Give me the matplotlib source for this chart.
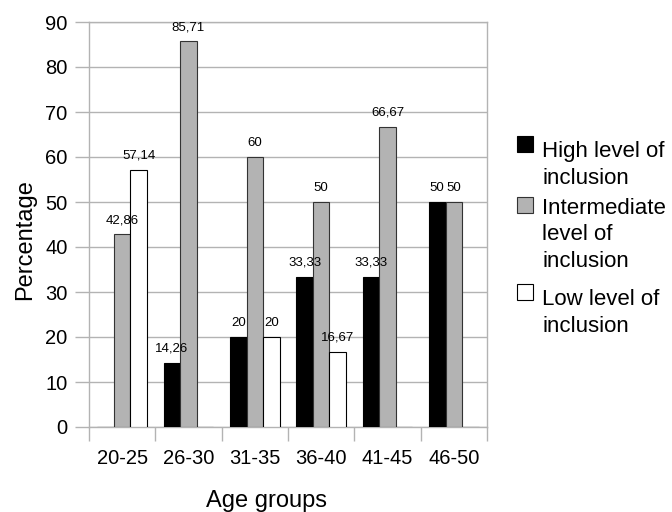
import numpy as np
import matplotlib.pyplot as plt
from matplotlib.patches import Rectangle

plt.rcParams['font.family'] = ['Liberation Sans', 'DejaVu Sans']

# percentages per age group
age_groups = ['20-25', '26-30', '31-35', '36-40', '41-45', '46-50']
high = [0, 14.26, 20, 33.33, 33.33, 50]
intermediate = [42.86, 85.71, 60, 50, 66.67, 50]
low = [57.14, 0, 20, 16.67, 0, 0]

series_names = ['High level of\ninclusion',
                'Intermediate\nlevel of\ninclusion',
                'Low level of\ninclusion']
series_values = [high, intermediate, low]
fills = ['#000000', '#b3b3b3', '#ffffff']
edges = ['#000000', '#333333', '#000000']

W, H = 672, 512
fig = plt.figure(figsize=(W / 100, H / 100), dpi=100)
ax = fig.add_axes([89 / W, 1 - 427 / H, (487 - 89) / W, (427 - 22) / H])

grid_col = '#b3b3b3'
x = np.arange(len(age_groups))
width = 0.25

for i, vals in enumerate(series_values):
    pos = x + (i - 1) * width
    ax.bar(pos, vals, width, color=fills[i], edgecolor=edges[i],
           linewidth=0.8, zorder=3)
    for p, v in zip(pos, vals):
        if v == 0:
            continue
        txt = ('%g' % v).replace('.', ',')
        ax.annotate(txt, (p, v), xytext=(0, 8), textcoords='offset points',
                    ha='center', va='baseline', fontsize=9.5, zorder=4)

ax.set_xlim(-0.5, len(age_groups) - 0.5)
ax.set_ylim(0, 90)
ax.set_yticks(np.arange(0, 91, 10))
ax.yaxis.grid(True, color=grid_col, linewidth=1, zorder=0)
ax.set_axisbelow(True)

# category separators below the axis, labels centred in between
ax.set_xticks(np.arange(-0.5, len(age_groups), 1.0))
ax.set_xticklabels([])
ax.set_xticks(x, minor=True)
ax.set_xticklabels(age_groups, minor=True, fontsize=14.5)
ax.tick_params(axis='x', which='major', length=10, width=1, color=grid_col)
ax.tick_params(axis='x', which='minor', length=0, pad=16)
ax.tick_params(axis='y', length=10, width=1, color=grid_col, labelsize=14.5, pad=5.5)

for s in ax.spines.values():
    s.set_color(grid_col)
    s.set_linewidth(1)

# axis titles
fig.text(25 / W, 1 - 240 / H, 'Percentage', fontsize=17, rotation=90,
         ha='center', va='center')
fig.text(267 / W, 1 - 507 / H, 'Age groups', fontsize=17,
         ha='center', va='baseline')

# legend drawn by hand so the swatch sits on the first text line
squares_top = [136, 197, 284]
baselines = [[157, 184], [214, 240, 267], [305, 332]]
for name, col, ec, top, bl in zip(series_names, fills, edges, squares_top, baselines):
    fig.add_artist(Rectangle((517 / W, 1 - (top + 16) / H), 16 / W, 16 / H,
                             transform=fig.transFigure, facecolor=col,
                             edgecolor=ec, linewidth=0.8))
    for line, yb in zip(name.split('\n'), bl):
        fig.text(542 / W, 1 - yb / H, line, fontsize=16, va='baseline', ha='left')

fig.savefig('out.png', dpi=100)
